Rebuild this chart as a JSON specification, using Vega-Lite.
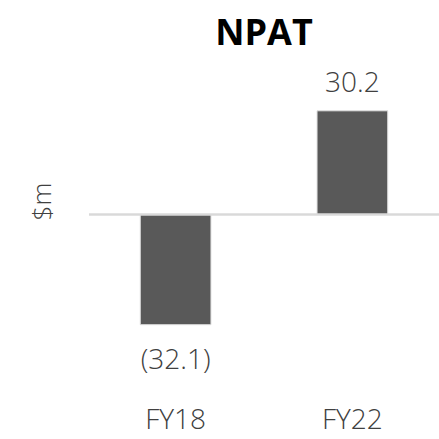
{
  "$schema": "https://vega.github.io/schema/vega-lite/v6.json",
  "autosize": "none",
  "width": 350,
  "height": 309,
  "padding": {"left": 89, "top": 60, "right": 0, "bottom": 70},
  "background": "white",
  "config": {"view": {"stroke": null}, "font": "Open Sans"},
  "title": {"text": "NPAT", "fontSize": 36, "fontWeight": "bold", "color": "#000000", "font": "Open Sans", "anchor": "middle", "offset": 7},
  "data": {"values": [
    {"year": "FY18", "value": -32.1, "label": "(32.1)"},
    {"year": "FY22", "value": 30.2, "label": "30.2"}
  ]},
  "layer": [
    {
      "mark": {"type": "bar", "color": "#595959", "stroke": "#e0e0e0", "strokeWidth": 1},
      "encoding": {
        "x": {"field": "year", "type": "nominal", "sort": null,
              "scale": {"paddingInner": 0.6, "paddingOuter": 0.29},
              "axis": {"title": null, "domain": false, "ticks": false, "labelAngle": 0, "labelFontSize": 28, "labelFontWeight": 300, "labelColor": "#404040", "labelPadding": 37, "labelFont": "Open Sans"}},
        "y": {"field": "value", "type": "quantitative",
              "scale": {"domain": [-45, 45], "nice": false, "zero": true},
              "axis": {"title": "$m", "titleFontSize": 26, "titleFontWeight": 300, "titleColor": "#404040", "titleFont": "Open Sans", "titleY": 141, "titlePadding": 34, "labels": false, "ticks": false, "domain": false, "grid": false}}
      }
    },
    {
      "mark": {"type": "rule", "color": "#d9d9d9", "strokeWidth": 2},
      "encoding": {"y": {"datum": 0, "type": "quantitative"}}
    },
    {
      "transform": [{"filter": "datum.value >= 0"}],
      "mark": {"type": "text", "fontSize": 28, "fontWeight": 300, "color": "#404040", "baseline": "alphabetic", "dy": -19, "font": "Open Sans"},
      "encoding": {
        "x": {"field": "year", "type": "nominal", "sort": null},
        "y": {"field": "value", "type": "quantitative"},
        "text": {"field": "label"}
      }
    },
    {
      "transform": [{"filter": "datum.value < 0"}],
      "mark": {"type": "text", "fontSize": 28, "fontWeight": 300, "color": "#404040", "baseline": "alphabetic", "dy": 44, "font": "Open Sans"},
      "encoding": {
        "x": {"field": "year", "type": "nominal", "sort": null},
        "y": {"field": "value", "type": "quantitative"},
        "text": {"field": "label"}
      }
    }
  ]
}
